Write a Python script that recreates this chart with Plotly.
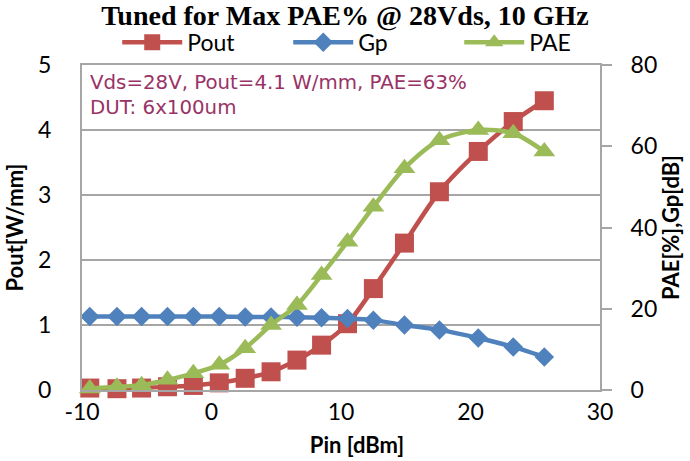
import plotly.graph_objects as go

# ---- data ----
pin_dbm = [-9.4, -7.3, -5.4, -3.4, -1.4, 0.6, 2.6, 4.6, 6.6, 8.5, 10.5, 12.5, 14.9, 17.6, 20.6, 23.3, 25.7]
pout_w_mm = [0.03, 0.02, 0.03, 0.05, 0.07, 0.11, 0.18, 0.28, 0.46, 0.69, 1.02, 1.56, 2.26, 3.05, 3.67, 4.13, 4.45]
gp_db = [18.1, 18.1, 18.1, 18.1, 18.1, 18.1, 18.0, 18.0, 17.9, 17.8, 17.6, 17.2, 16.0, 14.8, 12.8, 10.6, 8.1]
pae_pct = [0.4, 0.8, 1.2, 2.5, 4.1, 6.2, 10.3, 16.0, 20.9, 28.3, 36.5, 45.1, 54.6, 61.5, 64.0, 63.2, 58.7]

x_tickvals = [-10, 0, 10, 20, 30]
x_ticktext = ["-10", "0", "10", "20", "30"]

title_text = "Tuned for Max PAE% @ 28Vds, 10 GHz"
note_lines = ["Vds=28V, Pout=4.1 W/mm, PAE=63%", "DUT: 6x100um"]

RED = "#C0504D"
BLUE = "#4F81BD"
GREEN = "#9BBB59"
GRID = "#A6A6A6"
FONT = "Lato"

fig = go.Figure()
fig.add_trace(go.Scatter(
    x=pin_dbm, y=pout_w_mm, name="Pout", mode="lines+markers",
    line=dict(color=RED, width=4.5, shape="spline", smoothing=0.8),
    marker=dict(symbol="square", size=19, color=RED),
    cliponaxis=False, yaxis="y"))
fig.add_trace(go.Scatter(
    x=pin_dbm, y=gp_db, name="Gp", mode="lines+markers",
    line=dict(color=BLUE, width=4.5, shape="spline", smoothing=0.8),
    marker=dict(symbol="diamond", size=15, color=BLUE),
    cliponaxis=False, yaxis="y2"))
fig.add_trace(go.Scatter(
    x=pin_dbm, y=pae_pct, name="PAE", mode="lines+markers",
    line=dict(color=GREEN, width=4.5, shape="spline", smoothing=0.8),
    marker=dict(symbol="triangle-up", size=19, color=GREEN),
    cliponaxis=False, yaxis="y2"))

fig.update_layout(
    width=690, height=461,
    margin=dict(l=82, r=90, t=65, b=71),
    paper_bgcolor="white", plot_bgcolor="white",
    title=dict(text="<b>" + title_text + "</b>", x=0.5, xanchor="center",
               y=0.968, yanchor="middle", yref="container",
               font=dict(family="Liberation Serif", size=28, color="black")),
    font=dict(family=FONT, size=23, color="black"),
    legend=dict(orientation="h", x=0.068, xanchor="left", y=1.07, yanchor="middle",
                entrywidth=96, entrywidthmode="pixels", itemwidth=60,
                font=dict(family=FONT, size=23, color="black"),
                bgcolor="rgba(0,0,0,0)", tracegroupgap=0),
    xaxis=dict(range=[-10, 30], tickvals=x_tickvals, ticktext=x_ticktext,
               showgrid=False, zeroline=False, automargin=False,
               showline=True, linecolor=GRID, linewidth=2, mirror=True, ticks="",
               tickfont=dict(family=FONT, size=23),
               title=dict(text="<b>\u00a0\u00a0\u00a0\u00a0\u00a0\u00a0Pin [dBm]</b>", standoff=14,
                          font=dict(family=FONT, size=22))),
    yaxis=dict(range=[0, 5], dtick=1, showgrid=True, gridcolor=GRID, gridwidth=2,
               zeroline=False, showline=True, linecolor=GRID, linewidth=2, ticks="",
               automargin=False,
               ticklabelstandoff=24, tickfont=dict(family=FONT, size=23),
               title=dict(text="<b>Pout[W/mm]</b>", standoff=8,
                          font=dict(family=FONT, size=22))),
    yaxis2=dict(range=[0, 80], dtick=20, overlaying="y", side="right",
                showgrid=False, zeroline=False, showline=True, linecolor=GRID, linewidth=2,
                ticks="outside", ticklen=10, tickcolor=GRID, tickwidth=2, automargin=False,
                ticklabelstandoff=14, tickfont=dict(family=FONT, size=23),
                title=dict(text="<b>PAE[%],Gp[dB]</b>", standoff=0,
                           font=dict(family=FONT, size=22))),
)

for i, line in enumerate(note_lines):
    fig.add_annotation(xref="paper", yref="paper", x=0.012, y=0.988 - i * 0.078,
                       xanchor="left", yanchor="top", text=line, showarrow=False,
                       font=dict(family="DejaVu Sans", size=19.8, color="#993366"))

fig.write_html("out.html")
